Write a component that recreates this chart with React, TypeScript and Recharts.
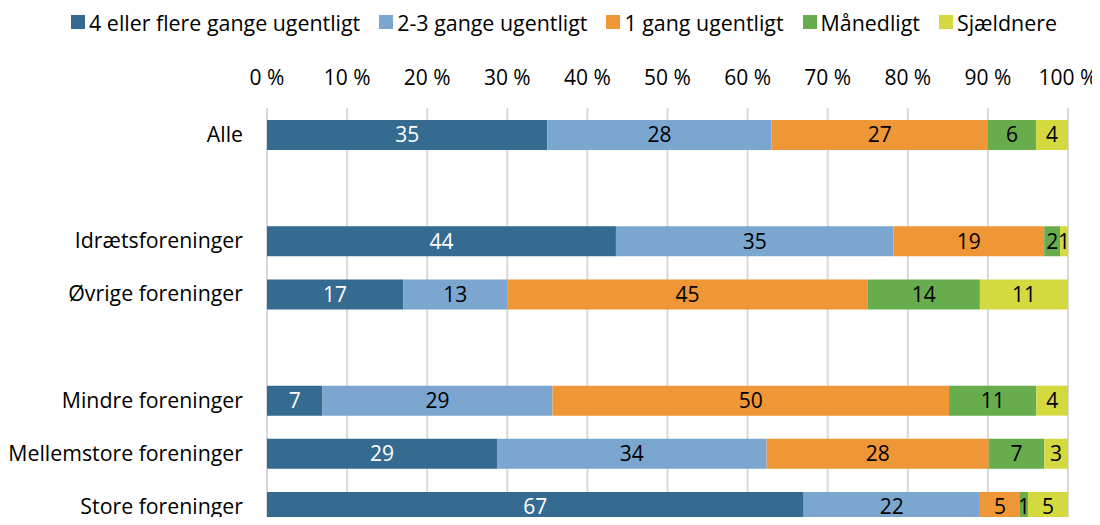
import React from "react";
import {
  BarChart,
  Bar,
  XAxis,
  YAxis,
  CartesianGrid,
  Legend,
  LabelList
} from "recharts";

// categories (blank entries are the gaps between groups)
const categories = [
  "Alle",
  " ",
  "Idrætsforeninger",
  "Øvrige foreninger",
  "  ",
  "Mindre foreninger",
  "Mellemstore foreninger",
  "Store foreninger"
];

const fourPlus = [35, null, 44, 17, null, 7, 29, 67];
const twoThree = [28, null, 35, 13, null, 29, 34, 22];
const oneWeek = [27, null, 19, 45, null, 50, 28, 5];
const monthly = [6, null, 2, 14, null, 11, 7, 1];
const rarer = [4, null, 1, 11, null, 4, 3, 5];

const xTicks = [0, 0.1, 0.2, 0.3, 0.4, 0.5, 0.6, 0.7, 0.8, 0.9, 1];

const FONT = "'Open Sans', sans-serif";

const series = [
  { key: "fourPlus", name: "4 eller flere gange ugentligt", color: "#356B91", labelColor: "#ffffff" },
  { key: "twoThree", name: "2-3 gange ugentligt", color: "#7AA6CF", labelColor: "#000000" },
  { key: "oneWeek", name: "1 gang ugentligt", color: "#EF9637", labelColor: "#000000" },
  { key: "monthly", name: "Månedligt", color: "#67AC4D", labelColor: "#000000" },
  { key: "rarer", name: "Sjældnere", color: "#D3D93F", labelColor: "#000000" }
];

const chartData = categories.map((name, i) => ({
  name,
  fourPlus: fourPlus[i],
  twoThree: twoThree[i],
  oneWeek: oneWeek[i],
  monthly: monthly[i],
  rarer: rarer[i]
}));

const LegendContent = () => (
  <div
    style={{
      display: "flex",
      justifyContent: "center",
      alignItems: "center",
      gap: 19,
      paddingLeft: 60,
      fontFamily: FONT,
      fontSize: 21.4,
      color: "#000",
      height: 30
    }}
  >
    {series.map((s) => (
      <div key={s.key} style={{ display: "flex", alignItems: "center" }}>
        <span style={{ width: 14, height: 14, background: s.color, marginRight: 4, display: "inline-block" }} />
        <span>{s.name}</span>
      </div>
    ))}
  </div>
);

export default function App() {
  return (
    <div style={{ margin: -8, width: 1100, height: 525, overflow: "hidden", background: "#fff" }}>
      <BarChart
        width={1100}
        height={540}
        data={chartData}
        layout="vertical"
        stackOffset="expand"
        barSize={30}
        barCategoryGap={0}
        margin={{ top: 7, right: 32, left: 0, bottom: 7 }}
        style={{ overflow: "visible" }}
      >
        <Legend verticalAlign="top" align="center" content={<LegendContent />} />
        <CartesianGrid horizontal={false} stroke="#D9D9D9" strokeWidth={2} />
        <XAxis
          type="number"
          orientation="top"
          domain={[0, 1]}
          ticks={xTicks}
          tickFormatter={(v: number) => `${Math.round(v * 100)} %`}
          axisLine={false}
          tickLine={false}
          tickSize={0}
          tickMargin={23}
          height={71}
          tick={{ fill: "#000", fontSize: 21, fontFamily: FONT }}
        />
        <YAxis
          type="category"
          dataKey="name"
          width={267}
          axisLine={false}
          tickLine={false}
          tickSize={0}
          tickMargin={24}
          interval={0}
          tick={{ fill: "#000", fontSize: 21.3, fontFamily: FONT }}
        />
        {series.map((s) => (
          <Bar key={s.key} dataKey={s.key} name={s.name} stackId="a" fill={s.color} isAnimationActive={false}>
            <LabelList
              dataKey={s.key}
              position="center"
              fill={s.labelColor}
              style={{ fontSize: 21, fontFamily: FONT }}
            />
          </Bar>
        ))}
      </BarChart>
    </div>
  );
}
